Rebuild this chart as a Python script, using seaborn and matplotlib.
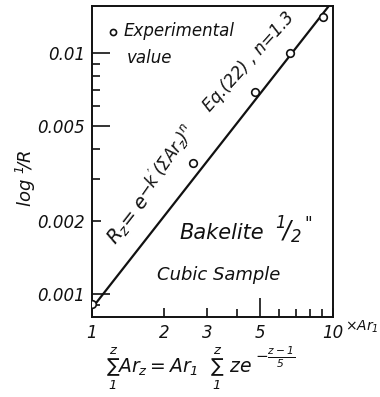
import numpy as np
import pandas as pd
import matplotlib
matplotlib.use("Agg")
import matplotlib.pyplot as plt
from matplotlib.ticker import FixedLocator, FixedFormatter, NullFormatter
import seaborn as sns

# Measured radiation ratio vs. cumulative area
ar_values = [1.0, 2.63, 4.75, 6.63, 9.1]
log_inv_r = [0.000906, 0.00349, 0.00686, 0.00997, 0.01415]

# Eq.(22) fitted line (n = 1.3), straight on log-log axes
fit_ar = [1.0, 10.0]
fit_log_inv_r = [0.00087, 0.0165]

x_major = [1, 2, 3, 5, 10]
x_major_labels = ["1", "2", "3", "5", "10"]
x_minor = [4, 6, 7, 8, 9]
y_major = [0.001, 0.002, 0.005, 0.01]
y_major_labels = ["0.001", "0.002", "0.005", "0.01"]
y_minor = [0.0009, 0.003, 0.004, 0.006, 0.007, 0.008, 0.009]

sns.set_theme(style="white")
plt.rcParams["font.family"] = ["DejaVu Sans"]
plt.rcParams["font.style"] = "italic"
plt.rcParams["mathtext.fontset"] = "custom"
plt.rcParams["mathtext.it"] = "DejaVu Sans:italic"
plt.rcParams["mathtext.rm"] = "DejaVu Sans:italic"
plt.rcParams["mathtext.sf"] = "DejaVu Sans:italic"

ink = "#111111"
W, H = 380, 397
fig = plt.figure(figsize=(W / 100, H / 100), dpi=100)
ax = fig.add_axes([0.242, 0.2015, 0.634, 0.7834])


def put(s, x, y, size, rot=0, ha="center", va="center"):
    """Place text at pixel coordinates measured from the top-left corner."""
    return fig.text(x / W, 1 - y / H, s, fontsize=size, rotation=rot,
                    rotation_mode="anchor", ha=ha, va=va, color=ink)


pts = pd.DataFrame({"ar": ar_values, "r": log_inv_r})
fit = pd.DataFrame({"ar": fit_ar, "r": fit_log_inv_r})

sns.lineplot(data=fit, x="ar", y="r", ax=ax, color=ink, linewidth=1.6, zorder=2)
sns.scatterplot(data=pts, x="ar", y="r", ax=ax, marker="o", s=30,
                facecolor="white", edgecolor=ink, linewidth=1.2, zorder=3,
                label="Experimental")

ax.set_xscale("log")
ax.set_yscale("log")
ax.set_xlim(1, 10)
ax.set_ylim(0.0008, 0.0157)

for side in ["left", "bottom", "top", "right"]:
    ax.spines[side].set_visible(True)
    ax.spines[side].set_color(ink)
    ax.spines[side].set_linewidth(1.4)

ax.xaxis.set_major_locator(FixedLocator(x_major))
ax.xaxis.set_major_formatter(FixedFormatter(x_major_labels))
ax.xaxis.set_minor_locator(FixedLocator(x_minor))
ax.xaxis.set_minor_formatter(NullFormatter())
ax.yaxis.set_major_locator(FixedLocator(y_major))
ax.yaxis.set_major_formatter(FixedFormatter(y_major_labels))
ax.yaxis.set_minor_locator(FixedLocator(y_minor))
ax.yaxis.set_minor_formatter(NullFormatter())

ax.tick_params(axis="both", which="both", direction="in", color=ink,
               width=1.2, labelsize=12, labelcolor=ink, pad=5,
               top=False, right=False, bottom=True, left=True)
ax.tick_params(which="major", length=6.5)
ax.tick_params(which="minor", length=6)

# longer ticks at the decade and half-decade marks
for val, t in zip(x_major, ax.xaxis.get_major_ticks()):
    if val == 5:
        t.tick1line.set_markersize(13.5)
for val, t in zip(y_major, ax.yaxis.get_major_ticks()):
    if val in (0.001, 0.005, 0.01):
        t.tick1line.set_markersize(13)
for lab in ax.get_xticklabels() + ax.get_yticklabels():
    lab.set_fontstyle("italic")

ax.set_xlabel("")
ax.set_ylabel("")

# axis titles
put(r"log $^{1}\!/R$", 26, 178, 13, rot=90)
put(r"$\times Ar_1$", 345, 327, 10, ha="left")
put(r"$\sum_{1}^{z}Ar_z = Ar_1\ \ \sum_{1}^{z}\ ze$", 106, 369, 13.5, ha="left")
put(r"$-\frac{z-1}{5}$", 255, 357, 11, ha="left")

# annotations along the fitted line
put(r"R$_z$= e", 129, 220, 14, rot=52)
put(r"$-k'(\Sigma Ar_z)^n$", 166, 162, 12, rot=55)
put("Eq.(22) , n=1.3", 249, 62, 12, rot=48)

# sample description
put("Bakelite", 222, 233, 15)
put(r"$^{1}\!/_{2}$", 275, 230, 17, ha="left")
put('"', 304, 224, 12, ha="left")
put("Cubic Sample", 219, 275, 13)

leg = ax.legend(loc="upper left", bbox_to_anchor=(0.053, 0.947), frameon=False,
                fontsize=12, handlelength=1.0, handletextpad=0.1,
                borderpad=0, borderaxespad=0, markerscale=0.8)
for t in leg.get_texts():
    t.set_color(ink)
put("value", 127, 58, 12, ha="left")

fig.savefig("out.png", dpi=100, facecolor="white")
